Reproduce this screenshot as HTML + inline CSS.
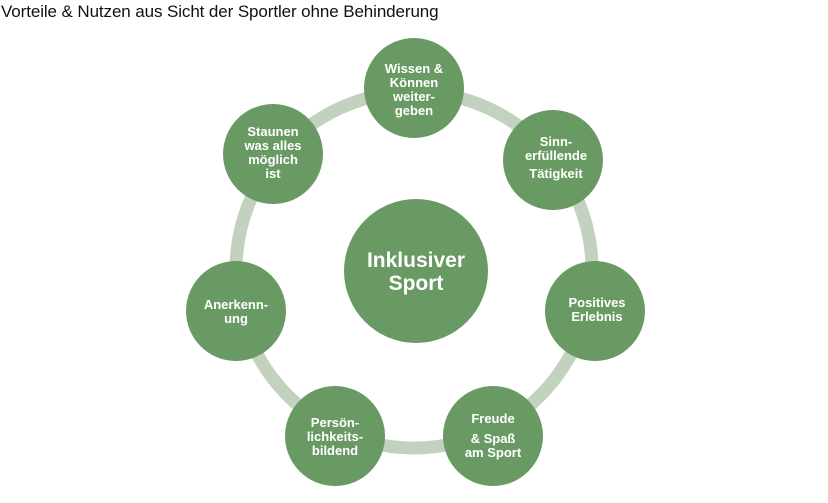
<!DOCTYPE html>
<html><head><meta charset="utf-8"><style>
html,body{margin:0;padding:0;background:#fff;width:828px;height:503px;overflow:hidden}
.t{position:absolute;left:1px;top:2px;font:17px "Liberation Sans",sans-serif;color:#111;white-space:nowrap;letter-spacing:-0.1px}
</style></head><body>
<div class="t">Vorteile &amp; Nutzen aus Sicht der Sportler ohne Behinderung</div>
<svg width="828" height="503" style="position:absolute;left:0;top:0">
<circle cx="414" cy="270" r="178" fill="none" stroke="#c3d2be" stroke-width="13"/>
<g fill="#6a9a64">
<circle cx="416" cy="271" r="72"/>
<circle cx="414" cy="88" r="50"/>
<circle cx="553" cy="160" r="50"/>
<circle cx="595" cy="311" r="50"/>
<circle cx="493" cy="436" r="50"/>
<circle cx="335" cy="436" r="50"/>
<circle cx="236" cy="311" r="50"/>
<circle cx="273" cy="154" r="50"/>
</g>
<g fill="#fff" font-family="Liberation Sans, sans-serif" font-weight="bold" text-anchor="middle" font-size="13">
<text x="416" y="267" font-size="21">Inklusiver</text>
<text x="416" y="290" font-size="21">Sport</text>
<text x="414" y="73">Wissen &amp;</text>
<text x="414" y="87">Können</text>
<text x="414" y="101">weiter-</text>
<text x="414" y="115">geben</text>
<text x="556" y="146">Sinn-</text>
<text x="556" y="160">erfüllende</text>
<text x="556" y="178">Tätigkeit</text>
<text x="597" y="307">Positives</text>
<text x="597" y="321">Erlebnis</text>
<text x="493" y="423">Freude</text>
<text x="493" y="443">&amp; Spaß</text>
<text x="493" y="457">am Sport</text>
<text x="335" y="427">Persön-</text>
<text x="335" y="441">lichkeits-</text>
<text x="335" y="455">bildend</text>
<text x="236" y="309">Anerkenn-</text>
<text x="236" y="323">ung</text>
<text x="273" y="136">Staunen</text>
<text x="273" y="150">was alles</text>
<text x="273" y="164">möglich</text>
<text x="273" y="178">ist</text>
</g>
</svg>
</body></html>
